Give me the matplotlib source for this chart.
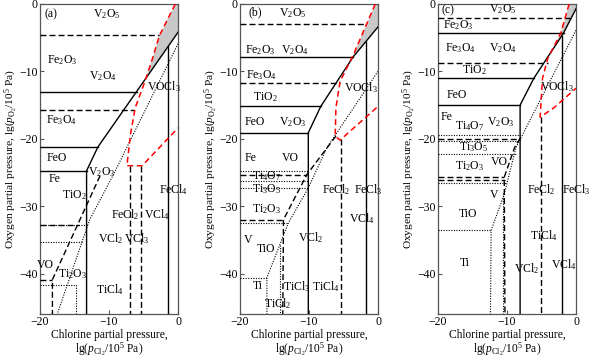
import numpy as np
import matplotlib.pyplot as plt
from matplotlib.patches import Polygon

plt.rcParams['font.family'] = ['Liberation Serif', 'DejaVu Serif']
plt.rcParams['mathtext.fontset'] = 'custom'
plt.rcParams['mathtext.rm'] = 'Liberation Serif'
plt.rcParams['mathtext.it'] = 'Liberation Serif:italic'
plt.rcParams['font.size'] = 8.5

# boundary lines, (lg pCl2, lg pO2) points
# ---- panel (a)
a_solid = [
    [(-20, -13.0), (-6.0, -13.0)],
    [(-20, -21.2), (-11.6, -21.2)],
    [(-20, -24.75), (-13.25, -24.75)],
    [(0, -4.2), (-11.6, -21.2), (-13.25, -24.75), (-13.25, -46)],
    [(-1.4, -6.25), (-1.4, -46)],
]
a_dashed = [
    [(-20, -4.66), (-2.7, -4.66)],
    [(-20, -15.8), (-6.4, -15.8)],
    [(-7.0, -24.0), (-7.0, -46)],
    [(-5.4, -24.0), (-5.4, -46)],
    [(-11.3, -25.5), (-18.2, -40.9), (-18.2, -46)],
    [(-20, -40.9), (-18.2, -40.9)],
    [(-20, -32.8), (-14.4, -32.8)],
]
a_dotted = [
    [(0, -5.9), (-9.4, -25.4), (-12.8, -32.0), (-17.5, -46)],
    [(-20, -32.8), (-13.1, -32.8)],
    [(-20, -35.3), (-13.9, -35.3)],
    [(-20, -41.7), (-14.8, -41.7), (-14.8, -46)],
]
a_red = [
    [(-0.4, 0), (-2.7, -4.7), (-3.7, -8.1), (-4.9, -11.8), (-6.2, -15.4),
     (-6.9, -19.4), (-7.4, -24.0), (-5.2, -24.0), (0, -18.4)],
]
a_grey = [(-0.4, 0), (0, 0), (0, -4.2), (-4.67, -11.05), (-3.7, -8.1), (-2.7, -4.7)]
a_labels = [
    ('(a)', -18.4, -1.5), ('V$_2$O$_5$', -10.3, -1.5), ('Fe$_2$O$_3$', -16.7, -8.3),
    ('V$_2$O$_4$', -10.9, -10.7), ('VOCl$_3$', -2.0, -12.2), ('Fe$_3$O$_4$', -16.9, -17.3),
    ('FeO', -17.6, -22.9), ('Fe', -17.9, -26.0), ('V$_2$O$_3$', -11.1, -25.0),
    ('TiO$_2$', -15.0, -28.4), ('FeCl$_4$', -0.6, -27.5), ('FeCl$_2$', -7.7, -31.3),
    ('VCl$_4$', -3.0, -31.3), ('VCl$_2$', -9.7, -34.8), ('VCl$_3$', -6.0, -34.8),
    ('VO', -19.2, -38.7), ('Ti$_2$O$_3$', -15.3, -40.1), ('TiCl$_4$', -9.9, -42.4),
]

# ---- panel (b)
b_solid = [
    [(-20, -7.85), (-3.6, -7.85)],
    [(-20, -15.2), (-8.3, -15.2)],
    [(-20, -19.1), (-10.1, -19.1)],
    [(0, -3.4), (-3.6, -7.85), (-8.3, -15.2), (-10.1, -19.1), (-10.1, -46)],
    [(-1.8, -5.6), (-1.8, -46)],
]
b_dashed = [
    [(-20, -2.9), (-1.9, -2.9)],
    [(-20, -11.7), (-5.5, -11.7)],
    [(-5.4, -20.1), (-5.4, -46)],
    [(-6.1, -19.6), (-10.3, -25.3), (-13.7, -32.0), (-13.8, -46)],
    [(-20, -25.3), (-10.3, -25.3)],
    [(-20, -32.0), (-13.7, -32.0)],
]
b_dotted = [
    [(0, -10.0), (-7.4, -21.3), (-10.1, -27.3), (-13.0, -32.5), (-16.1, -40.6), (-16.1, -46)],
    [(-20, -24.75), (-10.1, -24.75)],
    [(-20, -26.2), (-10.1, -26.2)],
    [(-20, -27.3), (-10.1, -27.3)],
    [(-20, -32.5), (-13.0, -32.5)],
    [(-20, -40.6), (-16.1, -40.6)],
    [(-14.2, -35.7), (-14.2, -46)],
]
b_red = [
    [(-0.4, 0), (-3.6, -7.6), (-5.5, -11.5), (-6.1, -15.4), (-6.2, -19.6),
     (-5.5, -20.2), (0, -15.2)],
]
b_grey = [(-0.4, 0), (0, 0), (0, -3.4), (-3.6, -7.85), (-4.11, -8.65), (-3.6, -7.6)]
b_labels = [
    ('(b)', -17.8, -1.3), ('V$_2$O$_5$', -12.3, -1.3), ('Fe$_2$O$_3$', -17.1, -6.9),
    ('V$_2$O$_4$', -12.0, -6.9), ('Fe$_3$O$_4$', -16.9, -10.6), ('VOCl$_3$', -2.4, -12.4),
    ('TiO$_2$', -16.4, -13.8), ('FeO', -17.8, -17.5), ('V$_2$O$_3$', -12.3, -17.5),
    ('Fe', -18.5, -22.8), ('VO', -12.75, -22.8), ('Ti$_4$O$_7$', -16.1, -25.5),
    ('Ti$_3$O$_5$', -16.1, -27.4), ('FeCl$_2$', -6.0, -27.5), ('FeCl$_3$', -1.4, -27.5),
    ('Ti$_2$O$_3$', -16.1, -30.4), ('VCl$_4$', -2.4, -31.9), ('V', -18.8, -35.0),
    ('TiO', -16.2, -36.3), ('VCl$_2$', -9.7, -34.6), ('Ti', -17.4, -41.9),
    ('TiCl$_3$', -11.8, -41.9), ('TiCl$_4$', -7.5, -41.9), ('TiCl$_2$', -14.5, -44.5),
]

# ---- panel (c)
c_solid = [
    [(-20, -4.3), (-1.8, -4.3)],
    [(-20, -11.0), (-6.1, -11.0)],
    [(-20, -15.0), (-8.1, -15.0)],
    [(0, -0.7), (-1.8, -4.3), (-6.1, -11.0), (-8.1, -15.0), (-8.1, -46)],
    [(-2.05, -4.7), (-2.05, -46)],
]
c_dashed = [
    [(-20, -2.1), (-0.9, -2.1)],
    [(-20, -8.8), (-4.1, -8.8)],
    [(-5.1, -16.8), (-5.1, -46)],
    [(-20, -20.1), (-8.1, -20.1)],
    [(-8.1, -19.9), (-8.9, -21.3), (-10.4, -25.7), (-10.3, -46)],
    [(-20, -25.7), (-10.4, -25.7)],
    [(-20, -26.1), (-10.3, -26.1)],
]
c_dotted = [
    [(0, -3.9), (-8.7, -21.3), (-10.4, -28.2), (-12.3, -33.6), (-12.4, -46)],
    [(-20, -19.5), (-8.1, -19.5)],
    [(-20, -20.4), (-8.1, -20.4)],
    [(-20, -22.3), (-8.7, -22.3)],
    [(-20, -26.6), (-10.1, -26.6)],
    [(-20, -33.6), (-12.3, -33.6)],
    [(-10.65, -28.0), (-10.65, -46)],
]
c_red = [
    [(-1.0, 0), (-2.2, -4.3), (-4.1, -8.1), (-4.85, -11.0), (-5.2, -16.8),
     (-3.2, -15.4), (0, -12.5)],
]
c_grey = [(-1.0, 0), (0, 0), (0, -0.7), (-1.8, -4.3), (-3.61, -7.32), (-2.2, -4.3)]
c_labels = [
    ('(c)', -18.5, -1.0), ('V$_2$O$_5$', -10.6, -0.8), ('Fe$_2$O$_3$', -17.1, -3.2),
    ('Fe$_3$O$_4$', -16.8, -6.6), ('V$_2$O$_4$', -10.6, -6.6), ('TiO$_2$', -14.7, -9.8),
    ('VOCl$_3$', -2.7, -12.3), ('FeO', -17.3, -13.5), ('Fe', -18.75, -16.7),
    ('Ti$_4$O$_7$', -15.4, -18.1), ('V$_2$O$_3$', -10.9, -17.5), ('Ti$_3$O$_5$', -14.9, -21.3),
    ('Ti$_2$O$_3$', -15.4, -24.0), ('VO', -11.1, -23.5), ('V', -11.8, -28.4),
    ('FeCl$_2$', -5.1, -27.5), ('FeCl$_3$', 0.3, -27.5), ('TiO', -15.6, -31.1),
    ('TiCl$_4$', -4.6, -34.3), ('Ti', -16.1, -38.5), ('VCl$_2$', -7.2, -39.2),
    ('VCl$_4$', -1.7, -38.7),
]

panels = [
    (a_solid, a_dashed, a_dotted, a_red, a_grey, a_labels),
    (b_solid, b_dashed, b_dotted, b_red, b_grey, b_labels),
    (c_solid, c_dashed, c_dotted, c_red, c_grey, c_labels),
]

fig = plt.figure(figsize=(6, 3.58), dpi=100)
lefts = [40 / 600, 240 / 600, 438 / 600]

for left, (solid, dashed, dotted, red, grey, labels) in zip(lefts, panels):
    ax = fig.add_axes([left, 1 - 314 / 358, 138 / 600, 310 / 358])
    ax.add_patch(Polygon(grey, closed=True, facecolor='#c8c8c8', edgecolor='none', zorder=1))
    for ln in solid:
        xs, ys = zip(*ln)
        ax.plot(xs, ys, color='black', lw=1.0, zorder=3)
    for ln in dashed:
        xs, ys = zip(*ln)
        ax.plot(xs, ys, color='black', lw=1.0, dashes=(4.3, 2.2), zorder=3)
    for ln in dotted:
        xs, ys = zip(*ln)
        ax.plot(xs, ys, color='black', lw=0.8, dashes=(1, 1.3), zorder=3)
    for ln in red:
        xs, ys = zip(*ln)
        ax.plot(xs, ys, color='red', lw=1.1, dashes=(3.8, 2.4), zorder=4)
    for txt, x, y in labels:
        ha = 'left' if txt == 'FeCl$_3$' and x > 0 else 'center'
        if ha == 'left':
            x = -2.0
        ax.text(x, y, txt, ha=ha, va='center', fontsize=8.5, zorder=5)

    ax.set_xlim(-20, 0)
    ax.set_ylim(-46, 0)
    ax.set_xticks([-20, -10, 0])
    ax.set_yticks([0, -10, -20, -30, -40])
    ax.tick_params(direction='in', length=3, width=0.8, color='#555555',
                   labelsize=8.5, pad=1.5)
    for sp in ax.spines.values():
        sp.set_color('#555555')
        sp.set_linewidth(0.9)
    ax.set_ylabel('Oxygen partial pressure, lg($p_{\\mathrm{O_2}}$/10$^5$ Pa)',
                  fontsize=8.2, labelpad=0.5)
    ax.set_xlabel('Chlorine partial pressure,\nlg($p_{\\mathrm{Cl_2}}$/10$^5$ Pa)',
                  fontsize=8.3, labelpad=0.5, linespacing=1.0)

fig.savefig('out.png', dpi=100)
